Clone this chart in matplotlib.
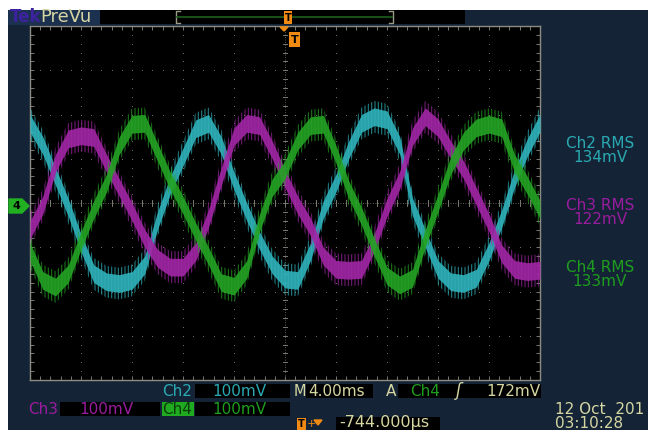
import numpy as np
import matplotlib.pyplot as plt
from matplotlib.patches import Rectangle, Polygon

# scope capture: 4 ms/div, 100 mV/div, 10 x 8 divisions
time_ms = list(range(0, 41))
ch2_mv = [180, 130, 60, -10, -90, -160, -178, -182, -175, -140, -40, 40, 104, 168,
          180, 130, 50, -20, -85, -140, -172, -175, -110, -15, 45, 120, 180, 195,
          188, 130, -9, -80, -150, -178, -182, -170, -110, -35, 55, 125, 181]
ch3_mv = [-61, -5, 90, 145, 152, 148, 90, 35, -20, -80, -125, -145, -145, -110,
          -35, 60, 150, 180, 175, 120, 55, -5, -54, -120, -150, -152, -150, -90,
          -10, 52, 150, 195, 170, 120, 75, 15, -45, -115, -150, -155, -152]
ch4_mv = [-110, -175, -190, -160, -85, -15, 45, 130, 178, 180, 115, 50, -5, -65,
          -120, -180, -188, -150, -45, 35, 75, 140, 175, 178, 110, 30, -30, -100,
          -165, -185, -170, -80, 0, 85, 140, 170, 178, 170, 90, 40, -15]

channels = ["Ch2", "Ch3", "Ch4"]
rms_values = ["134mV", "122mV", "133mV"]
volts_per_div = "100mV"
time_per_div = "4.00ms"
trigger_level = "172mV"
trigger_pos = "-744.000µs"
date_str = "12 Oct  201"
time_str = "03:10:28"

W, H = 648, 430
NAVY = "#142436"
PALE = "#d6d6a2"
ORANGE = "#f08a12"
colors = {"Ch2": "#2fb3bb", "Ch3": "#a226a6", "Ch4": "#24a324"}
text_colors = {"Ch2": "#2aa9b2", "Ch3": "#9a1c9e", "Ch4": "#1e9e1e"}
GRID = "#7a7a72"
core = 20    # solid part of the trace, mV either side
fuzz = 36    # extent of the switching ripple, mV either side

plt.rcParams["hatch.linewidth"] = 0.8


def fx(x):
    return x / W


def fy(y):
    return 1 - y / H


fig = plt.figure(figsize=(W / 100, H / 100), dpi=100)
fig.patch.set_facecolor("white")


def frect(x0, y0, x1, y1, color, z=1, **kw):
    fig.patches.append(Rectangle((fx(x0), fy(y1)), fx(x1 - x0), (y1 - y0) / H,
                                 transform=fig.transFigure, facecolor=color,
                                 zorder=z, **kw))


def fline(xs, ys, color, lw=1.0):
    fig.add_artist(plt.Line2D([fx(x) for x in xs], [fy(y) for y in ys],
                              color=color, lw=lw, transform=fig.transFigure))


def ftext(x, y, s, color=PALE, size=11, ha="left", **kw):
    fig.text(fx(x), fy(y), s, color=color, fontsize=size, ha=ha, va="center",
             family="DejaVu Sans", **kw)


# screen background
frect(8, 10, W, H, NAVY, z=-5, edgecolor="none")

# --- waveform area ---
ax = fig.add_axes([fx(30), fy(380), fx(510), 354 / H])
ax.set_zorder(2)
ax.set_facecolor("black")
ax.set_xlim(0, 40)
ax.set_ylim(-400, 400)

# dotted graticule
for xd in range(4, 40, 4):
    ys = np.arange(-400, 401, 20)
    ax.scatter(np.full(len(ys), xd), ys, s=0.6, color=GRID, lw=0, zorder=1)
for yd in range(-300, 400, 100):
    xs = np.arange(0, 40.01, 0.8)
    ax.scatter(xs, np.full(len(xs), yd), s=0.6, color=GRID, lw=0, zorder=1)
# center cross with minor ticks
ax.axhline(0, color=GRID, lw=0.6, ls=(0, (1, 2)), zorder=1)
ax.axvline(20, color=GRID, lw=0.6, ls=(0, (1, 2)), zorder=1)
for xt in np.arange(0, 40.01, 0.8):
    ax.plot([xt, xt], [-7, 7], color=GRID, lw=0.7, zorder=1)
for yt in np.arange(-400, 401, 20):
    ax.plot([19.85, 20.15], [yt, yt], color=GRID, lw=0.7, zorder=1)

# border ticks
ax.set_xticks(np.arange(0, 40.01, 0.8))
ax.set_yticks(np.arange(-400, 401, 20))
ax.tick_params(direction="in", length=3, width=0.7, color=GRID,
               top=True, right=True, labelbottom=False, labelleft=False)
for sp in ax.spines.values():
    sp.set_color("#8c8c84")
    sp.set_linewidth(1.0)

# traces: ripple fringe, then solid core
for name, vals in zip(channels, [ch2_mv, ch3_mv, ch4_mv]):
    v = np.array(vals, dtype=float)
    ax.fill_between(time_ms, v - fuzz, v + fuzz, facecolor="none",
                    edgecolor=colors[name], hatch="|||||", lw=0, alpha=0.7,
                    zorder=3)
    ax.fill_between(time_ms, v - core, v + core, color=colors[name],
                    alpha=0.9, lw=0, zorder=3)

# --- top status bar ---
frect(8, 10, 100, 25, "#1c3150", edgecolor="none")
frect(100, 10, 465, 24, "black", edgecolor="none")
ftext(10, 17.5, "Tek", color="#3d22a0", size=12, weight="bold")
ftext(40, 17, "PreVu", color=PALE, size=13)
fline([180, 176, 176, 180], [11, 11, 23, 23], "#9a9a86", lw=1.0)
fline([389, 393, 393, 389], [11, 11, 23, 23], "#9a9a86", lw=1.0)
fline([177, 392], [17, 17], "#1d5e1d", lw=1.2)
frect(284, 11, 292, 24, ORANGE, z=3, edgecolor="none")
fig.text(fx(288), fy(18), "T", color="black", fontsize=7, ha="center",
         va="center", weight="bold", zorder=4)

# trigger position marker
fig.add_artist(Polygon([(fx(280), fy(27)), (fx(288), fy(27)), (fx(284), fy(31))],
                       closed=True, transform=fig.transFigure, color=ORANGE,
                       zorder=5))
frect(289, 32, 300, 47, ORANGE, z=5, edgecolor="none")
fig.text(fx(294.5), fy(40), "T", color="black", fontsize=8, ha="center",
         va="center", weight="bold", zorder=6)

# channel 4 ground marker
fig.add_artist(Polygon([(fx(9), fy(199)), (fx(22), fy(199)), (fx(29), fy(206)),
                        (fx(22), fy(213)), (fx(9), fy(213))], closed=True,
                       transform=fig.transFigure, color="#22b022"))
ftext(16, 206, "4", color="black", size=8, ha="center", weight="bold")

# --- right side readouts ---
for i, name in enumerate(channels):
    yc = 143 + i * 62.5
    ftext(600, yc, name + " RMS", color=text_colors[name], ha="center")
    ftext(600, yc + 14, rms_values[i], color=text_colors[name], ha="center")

# --- bottom readouts ---
# row 1
ftext(162, 391, "Ch2", color=text_colors["Ch2"])
frect(195, 384, 290, 398, "black", edgecolor="none")
ftext(212, 391, volts_per_div, color=text_colors["Ch2"])
ftext(294, 391, "M", color=PALE, size=10.5)
frect(306, 384, 373, 398, "black", edgecolor="none")
ftext(308, 391, time_per_div, color=PALE, size=11)
ftext(386, 391, "A", color=PALE)
frect(398, 384, 541, 398, "black", edgecolor="none")
ftext(410, 391, "Ch4", color=text_colors["Ch4"])
ftext(456, 391, "ʃ", color=PALE, size=12, style="italic")
ftext(540, 391, trigger_level, color=PALE, ha="right")

# row 2
ftext(28, 409, "Ch3", color=text_colors["Ch3"])
frect(60, 402, 160, 416, "black", edgecolor="none")
ftext(79, 409, volts_per_div, color=text_colors["Ch3"])
frect(162, 402, 194, 416, "#1faa1f", edgecolor="none")
ftext(162, 409, "Ch4", color="#0b3d0b")
frect(195, 402, 290, 416, "black", edgecolor="none")
ftext(212, 409, volts_per_div, color=text_colors["Ch4"])

# row 3: trigger position
frect(297, 418, 306, 430, ORANGE, edgecolor="none")
ftext(301.5, 424, "T", color="black", size=7, ha="center", weight="bold")
ftext(307, 424, "+", color=ORANGE, size=8)
fig.add_artist(Polygon([(fx(314), fy(420)), (fx(322), fy(420)), (fx(318), fy(425))],
                       closed=True, transform=fig.transFigure, color=ORANGE))
frect(336, 417, 440, 430, "black", edgecolor="none")
ftext(339, 423, trigger_pos, color=PALE, size=11.5)

# date and time
ftext(555, 410, date_str, color=PALE, size=11)
ftext(555, 423.5, time_str, color=PALE, size=11)

fig.savefig("out.png", dpi=100, facecolor=fig.get_facecolor())
